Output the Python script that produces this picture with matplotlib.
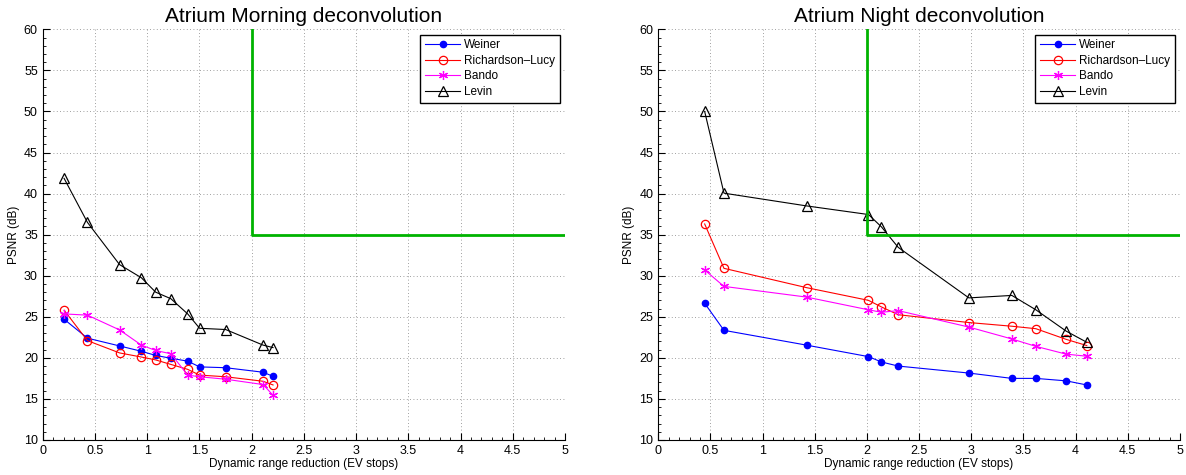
import numpy as np
import matplotlib
matplotlib.use("Agg")
import matplotlib.pyplot as plt
from matplotlib.ticker import AutoMinorLocator

plt.rcParams['font.family'] = ['Liberation Sans', 'DejaVu Sans']

labels = ["Weiner", "Richardson\u2013Lucy", "Bando", "Levin"]

# Atrium Morning
morning_x = [0.205, 0.428, 0.736, 0.945, 1.081, 1.227, 1.388, 1.502, 1.751, 2.11, 2.205]
morning_weiner = [24.7, 22.4, 21.45, 20.8, 20.3, 19.95, 19.6, 18.9, 18.8, 18.25, 17.75]
morning_rl = [25.8, 22.1, 20.6, 20.1, 19.75, 19.2, 18.6, 17.9, 17.7, 17.15, 16.7]
morning_bando = [25.35, 25.2, 23.4, 21.55, 20.9, 20.5, 17.9, 17.7, 17.4, 16.75, 15.45]
morning_levin = [41.85, 36.5, 31.35, 29.75, 28.0, 27.2, 25.35, 23.6, 23.45, 21.55, 21.25]

# Atrium Night
night_x = [0.445, 0.63, 1.421, 2.015, 2.139, 2.30, 2.977, 3.389, 3.619, 3.91, 4.107]
night_weiner = [26.65, 23.35, 21.55, 20.15, 19.5, 19.0, 18.15, 17.5, 17.5, 17.2, 16.7]
night_rl = [36.3, 30.9, 28.55, 27.0, 26.2, 25.25, 24.3, 23.85, 23.55, 22.25, 21.5]
night_bando = [30.7, 28.7, 27.4, 25.85, 25.55, 25.75, 23.75, 22.3, 21.4, 20.45, 20.2]
night_levin = [50.0, 40.05, 38.5, 37.45, 35.95, 33.45, 27.3, 27.6, 25.85, 23.25, 21.9]

target_x = [2, 2, 5]
target_y = [60, 35, 35]

styles = [
    dict(color="blue", marker=".", markersize=9),
    dict(color="red", marker="o", markersize=6, markerfacecolor="none", markeredgewidth=0.9),
    dict(color="magenta", marker=(6, 2, 0), markersize=6.5, markeredgewidth=0.9),
    dict(color="black", marker="^", markersize=6.5, markerfacecolor="none", markeredgewidth=0.9),
]

fig = plt.figure(figsize=(11.86, 4.75), dpi=100)
ax1 = fig.add_axes([0.036, 0.0737, 0.4404, 0.8646])
ax2 = fig.add_axes([0.555, 0.0737, 0.4399, 0.8646])

panels = [
    (ax1, "Atrium Morning deconvolution", morning_x,
     [morning_weiner, morning_rl, morning_bando, morning_levin]),
    (ax2, "Atrium Night deconvolution", night_x,
     [night_weiner, night_rl, night_bando, night_levin]),
]

for ax, title, xs, series in panels:
    for ys, lab, st in zip(series, labels, styles):
        ax.plot(xs, ys, linewidth=0.8, label=lab, **st)
    ax.plot(target_x, target_y, color=(0, 0.7, 0), linewidth=2)
    ax.set_xlim(0, 5)
    ax.set_ylim(10, 60)
    ax.set_xticks(np.arange(0, 5.01, 0.5))
    ax.set_xticklabels(["0", "0.5", "1", "1.5", "2", "2.5", "3", "3.5", "4", "4.5", "5"])
    ax.set_yticks(np.arange(10, 61, 5))
    ax.xaxis.set_minor_locator(AutoMinorLocator(5))
    ax.yaxis.set_minor_locator(AutoMinorLocator(5))
    ax.tick_params(which="both", direction="in", labelsize=9, top=False, right=False)
    ax.tick_params(which="major", length=5, width=0.8)
    ax.tick_params(which="minor", length=2, width=0.6)
    ax.spines["top"].set_visible(False)
    ax.spines["right"].set_visible(False)
    ax.grid(True, which="major", linestyle=(0, (1, 3)), color="0.5", linewidth=0.6)
    ax.set_title(title, fontsize=15, pad=5)
    ax.set_xlabel("Dynamic range reduction (EV stops)", fontsize=8.5, labelpad=1)
    ax.set_ylabel("PSNR (dB)", fontsize=8.5, labelpad=3)
    leg = ax.legend(loc="upper right", fontsize=8.5, fancybox=False, framealpha=1,
                    edgecolor="black", borderaxespad=0.45, handlelength=3.0,
                    handletextpad=0.3, labelspacing=0.3, borderpad=0.4)
    leg.get_frame().set_linewidth(1.0)

fig.savefig("out.png", dpi=100)
